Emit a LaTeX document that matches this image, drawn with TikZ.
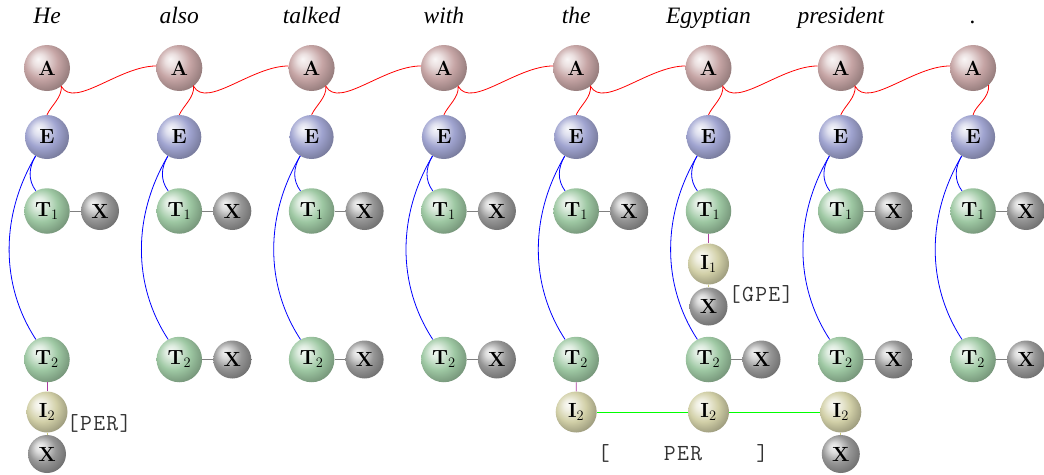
\documentclass[tikz,border=0pt]{standalone}
\usepackage{fontspec}
\newfontfamily\wordfont{Liberation Serif}
\definecolor{acol}{RGB}{198,165,165}
\definecolor{ecol}{RGB}{160,164,208}
\definecolor{tcol}{RGB}{158,200,163}
\definecolor{icol}{RGB}{210,208,168}
\definecolor{xcol}{RGB}{150,150,150}
\definecolor{plink}{RGB}{170,60,160}
\definecolor{olink}{RGB}{200,200,120}
\newcommand\mkball[2]{\pgfdeclareradialshading{#1}{\pgfpoint{-10bp}{10bp}}{%
  color(0bp)=(#2!10!white); color(7bp)=(#2!35!white); color(18bp)=(#2);
  color(30bp)=(#2!75!black); color(50bp)=(#2!45!black)}}
\mkball{ballA}{acol}
\mkball{ballE}{ecol}
\mkball{ballT}{tcol}
\mkball{ballI}{icol}
\mkball{ballX}{xcol}
\newlength\tcw
\setlength\tcw{13.2pt}
\newcommand\tc[1]{\makebox[\tcw]{#1}}
\tikzset{
  ball/.style={circle,inner sep=0pt,font=\fontsize{20.5}{24}\selectfont\bfseries},
  anode/.style={ball,minimum size=46pt,shading=ballA},
  enode/.style={ball,minimum size=44pt,shading=ballE},
  tnode/.style={ball,minimum size=45.5pt,shading=ballT},
  inode/.style={ball,minimum size=41pt,shading=ballI},
  xnode/.style={ball,minimum size=38pt,shading=ballX},
  word/.style={anchor=base,inner sep=0pt,font=\wordfont\itshape\fontsize{23.5}{27}\selectfont},
  tag/.style={inner sep=0pt,text=black!80,font=\ttfamily\fontsize{23}{26}\selectfont},
  redlink/.style={red,line width=0.8pt},
  bluelink/.style={blue,line width=0.8pt},
  greylink/.style={gray,line width=0.8pt},
  purplelink/.style={plink,line width=0.8pt},
  olivelink/.style={olink,line width=0.8pt},
  greenlink/.style={green,line width=0.8pt}
}
\begin{document}
\begin{tikzpicture}[x=1pt,y=-1pt]
\useasboundingbox (0,0) rectangle (1044,474);
% words
\node[word] (w1) at (47,23.3) {He};
\node[word] (w2) at (179.3,23.3) {also};
\node[word] (w3) at (311.6,23.3) {talked};
\node[word] (w4) at (443.9,23.3) {with};
\node[word] (w5) at (576.2,23.3) {the};
\node[word] (w6) at (708.5,23.3) {Egyptian};
\node[word] (w7) at (840.8,23.3) {president};
\node[word] (w8) at (973.1,23.3) {.};
% main columns
\foreach \i [evaluate=\i as \x using {47+132.3*(\i-1)}] in {1,...,8} {
  \node[anode] (A\i) at (\x,68) {A};
  \node[enode] (E\i) at (\x,137) {E};
  \node[tnode] (Ta\i) at (\x,211) {T$_1$};
  \node[tnode] (Tb\i) at (\x,359.5) {T$_2$};
}
% X next to T1
\foreach \i in {1,2,3,4,5,7,8} {
  \path (Ta\i.center) ++(53,0) node[xnode] (XTa\i) {X};
  \draw[greylink] (Ta\i) -- (XTa\i);
}
% X next to T2
\foreach \i in {2,3,4,6,7,8} {
  \path (Tb\i.center) ++(53,0) node[xnode] (XTb\i) {X};
  \draw[greylink] (Tb\i) -- (XTb\i);
}
% I nodes
\node[inode] (Ib1) at (47,412) {I$_2$};
\node[xnode] (XIb1) at (47,454) {X};
\node[inode] (Ia6) at (708.5,264) {I$_1$};
\node[xnode] (XIa6) at (708.5,306.5) {X};
\node[inode] (Ib5) at (576.2,412) {I$_2$};
\node[inode] (Ib6) at (708.5,412) {I$_2$};
\node[inode] (Ib7) at (840.8,412) {I$_2$};
\node[xnode] (XIb7) at (840.8,454) {X};
\draw[purplelink] (Tb1) -- (Ib1);
\draw[olivelink] (Ib1) -- (XIb1);
\draw[purplelink] (Ta6) -- (Ia6);
\draw[olivelink] (Ia6) -- (XIa6);
\draw[purplelink] (Tb5) -- (Ib5);
\draw[olivelink] (Ib7) -- (XIb7);
\draw[greenlink] (Ib5) -- (Ib6) -- (Ib7);
% tags
\node[tag,anchor=base west] (tper) at (66,430) {\tc{[}\tc{P}\tc{E}\tc{R}\tc{]}};
\node[tag,anchor=base west] (tgpe) at (728,301.5) {\tc{[}\tc{G}\tc{P}\tc{E}\tc{]}};
\node[tag,anchor=base] (tper2) at (683,460) {\tc{[}\hspace{4\tcw}\tc{P}\tc{E}\tc{R}\hspace{4\tcw}\tc{]}};
% red links
\foreach \i [evaluate=\i as \j using {int(\i+1)}] in {1,...,7} {
  \draw[redlink] (E\i.north) .. controls +(4,-9) and +(1,11) .. (A\i.-52)
     .. controls +(13,23) and +(-37,0) .. (A\j.175);
}
\draw[redlink] (A8.-48) .. controls +(1,13) and +(2,-9) .. (E8.north);
% blue links
\foreach \i in {1,...,8} {
  \draw[bluelink] (E\i.-121) .. controls +(-7,12) and +(-8,-11) .. (Ta\i.119);
  \draw[bluelink] (E\i.-121) .. controls +(-35,59) and +(-36,-55) .. (Tb\i.119);
}
\end{tikzpicture}
\end{document}
